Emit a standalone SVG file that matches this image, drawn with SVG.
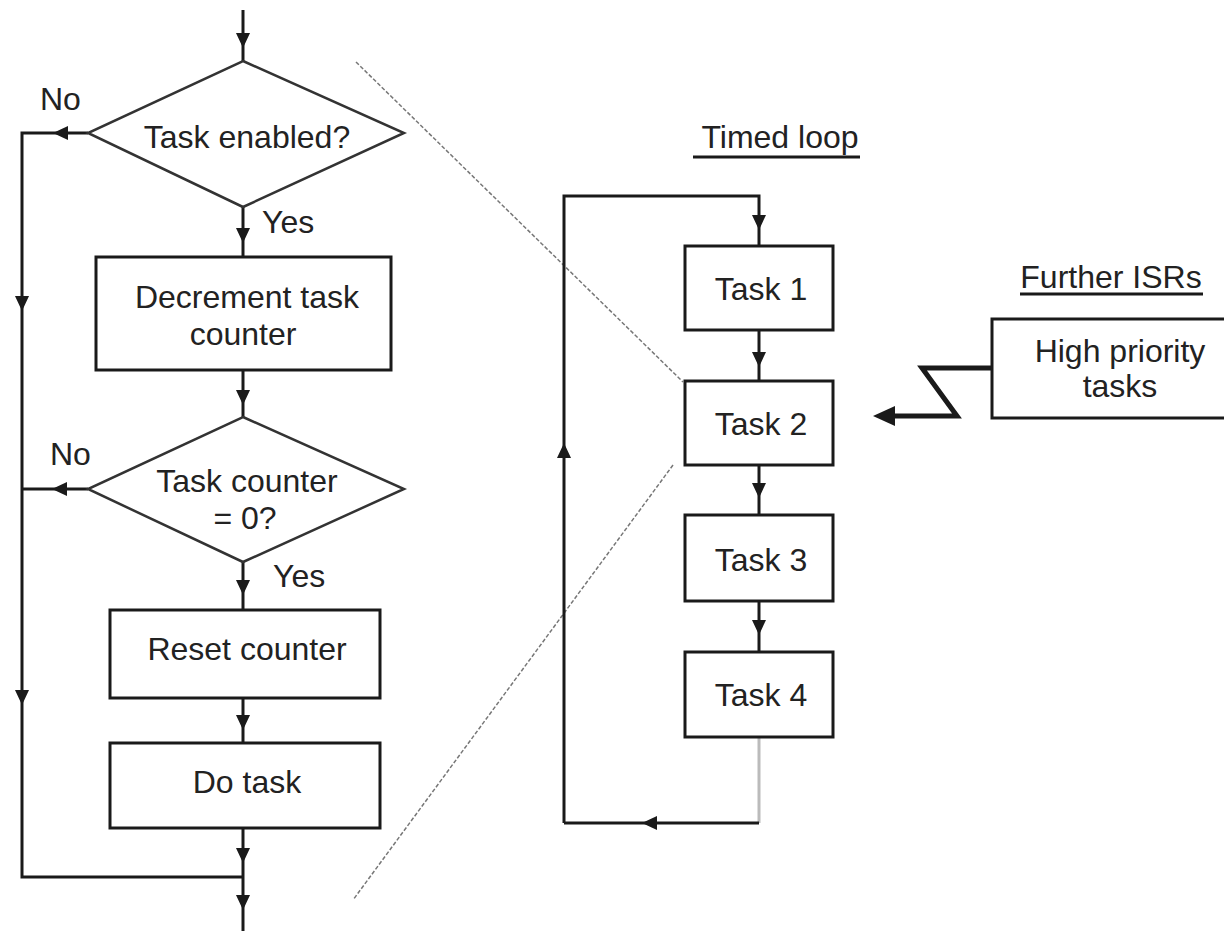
<svg xmlns="http://www.w3.org/2000/svg" width="1224" height="931" viewBox="0 0 1224 931">
<style>
text{font-family:"Liberation Sans",Arial,sans-serif;font-size:32px;fill:#222}
.c{text-anchor:middle}
.box{fill:#fff;stroke:#1a1a1a;stroke-width:3}
.dia{fill:#fff;stroke:#333;stroke-width:2.5}
.ln{fill:none;stroke:#1a1a1a;stroke-width:3}
.dot{fill:none;stroke:#777;stroke-width:1.5;stroke-dasharray:4 2}
.ah{fill:#1a1a1a}
</style>
<defs>
<path id="ad" d="M-7,-15 L7,-15 L0,0 Z"/>
<path id="al" d="M0,0 L15,-7 L15,7 Z"/>
<path id="au" d="M-7,15 L7,15 L0,0 Z"/>
</defs>
<rect width="1224" height="931" fill="#fff"/>

<g id="connectors">
  <line class="ln" x1="243" y1="10" x2="243" y2="61"/>
  <use href="#ad" class="ah" x="243" y="48"/>
  <line class="ln" x1="243" y1="207" x2="243" y2="257"/>
  <use href="#ad" class="ah" x="243" y="243"/>
  <line class="ln" x1="243" y1="370" x2="243" y2="417"/>
  <use href="#ad" class="ah" x="243" y="405"/>
  <line class="ln" x1="243" y1="562" x2="243" y2="610"/>
  <use href="#ad" class="ah" x="243" y="595"/>
  <line class="ln" x1="243" y1="698" x2="243" y2="743"/>
  <use href="#ad" class="ah" x="243" y="730"/>
  <line class="ln" x1="243" y1="828" x2="243" y2="931"/>
  <use href="#ad" class="ah" x="243" y="863"/>
  <use href="#ad" class="ah" x="243" y="910"/>
  <polyline class="ln" points="88,133 22,133 22,877 243,877"/>
  <use href="#al" class="ah" x="53" y="133"/>
  <use href="#ad" class="ah" x="22" y="311"/>
  <use href="#ad" class="ah" x="22" y="705"/>
  <line class="ln" x1="88" y1="489" x2="22" y2="489"/>
  <use href="#al" class="ah" x="52" y="489"/>

  <line class="dot" x1="356" y1="62" x2="683" y2="382"/>
  <line class="dot" x1="673" y1="465" x2="353" y2="900"/>

  <polyline class="ln" points="564,823 564,196 759,196 759,246"/>
  <use href="#ad" class="ah" x="759" y="230"/>
  <use href="#au" class="ah" x="564" y="443"/>
  <line class="ln" x1="759" y1="330" x2="759" y2="381"/>
  <use href="#ad" class="ah" x="759" y="367"/>
  <line class="ln" x1="759" y1="465" x2="759" y2="515"/>
  <use href="#ad" class="ah" x="759" y="498"/>
  <line class="ln" x1="759" y1="601" x2="759" y2="652"/>
  <use href="#ad" class="ah" x="759" y="635"/>
  <line x1="759" y1="737" x2="759" y2="823" stroke="#bbb" stroke-width="3"/>
  <line class="ln" x1="759" y1="823" x2="564" y2="823"/>
  <use href="#al" class="ah" x="642" y="823"/>

  <polyline points="992,368 922,368 957,416 890,416" fill="none" stroke="#1a1a1a" stroke-width="5"/>
  <path d="M873,416 L895,406 L895,426 Z" class="ah"/>
</g>

<g id="labels">
  <text x="40" y="110">No</text>
  <text x="262" y="233">Yes</text>
  <text x="50" y="465">No</text>
  <text x="273" y="587">Yes</text>
  <text class="c" x="780" y="148">Timed loop</text>
  <line x1="693" y1="157" x2="860" y2="157" stroke="#1a1a1a" stroke-width="3"/>
  <text class="c" x="1111" y="288">Further ISRs</text>
  <line x1="1020" y1="294" x2="1203" y2="294" stroke="#1a1a1a" stroke-width="3"/>
</g>

<g id="d1"><polygon class="dia" points="243,61 404,133 243,207 88,133"/><text class="c" x="247" y="148">Task enabled?</text></g>
<g id="b1"><rect class="box" x="96" y="257" width="295" height="113"/><text class="c" x="247" y="308">Decrement task</text><text class="c" x="243" y="345">counter</text></g>
<g id="d2"><polygon class="dia" points="243,417 404,489 243,562 88,489"/><text class="c" x="247" y="492">Task counter</text><text class="c" x="245" y="529">= 0?</text></g>
<g id="b2"><rect class="box" x="110" y="610" width="270" height="88"/><text class="c" x="247" y="660">Reset counter</text></g>
<g id="b3"><rect class="box" x="110" y="743" width="270" height="85"/><text class="c" x="247" y="793">Do task</text></g>

<g id="t1"><rect class="box" x="685" y="246" width="148" height="84"/><text class="c" x="761" y="300">Task 1</text></g>
<g id="t2"><rect class="box" x="685" y="381" width="148" height="84"/><text class="c" x="761" y="435">Task 2</text></g>
<g id="t3"><rect class="box" x="685" y="515" width="148" height="86"/><text class="c" x="761" y="571">Task 3</text></g>
<g id="t4"><rect class="box" x="685" y="652" width="148" height="85"/><text class="c" x="761" y="706">Task 4</text></g>

<g id="isr"><rect class="box" x="992" y="319" width="240" height="99"/><text class="c" x="1120" y="362">High priority</text><text class="c" x="1120" y="397">tasks</text></g>
</svg>
